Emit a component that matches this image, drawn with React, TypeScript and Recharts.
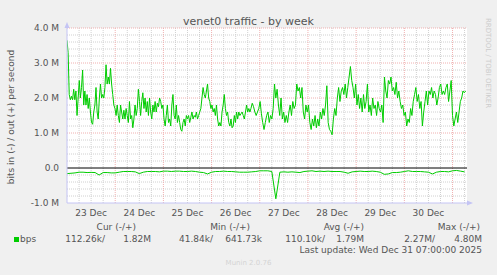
import { CartesianGrid, Line, LineChart, ReferenceLine, XAxis, YAxis } from "recharts";

// hours since 23 Dec 00:00
const X_MAX = 199.2;
const dayLabels = ["23 Dec", "24 Dec", "25 Dec", "26 Dec", "27 Dec", "28 Dec", "29 Dec", "30 Dec"];
const dayNoonHours = [12, 36, 60, 84, 108, 132, 156, 180];
const yTicks = [-1, 0, 1, 2, 3, 4];

// out (+) in Mbit/s
const outFirstSpan = [0, 91.1];
const outFirst = [
  3.65, 3.3, 2.1, 1.95, 2.05, 1.95, 2.25, 1.95, 2.2, 1.5,
  2.0, 2.5, 2.0, 2.3, 2.8, 1.8, 2.2, 1.8, 2.1, 1.7,
  2.0, 1.6, 1.3, 1.25, 1.6, 1.8, 2.3, 1.6, 1.4, 2.0,
  2.4, 2.0, 2.1, 2.0, 2.3, 2.95, 2.4, 2.6, 2.4, 2.85,
  2.4, 2.1, 1.8, 1.7, 1.5, 1.8, 1.5, 1.3, 1.8, 1.6,
  1.4, 1.65, 1.4, 1.7, 1.5, 1.3, 1.9, 1.4, 1.5, 1.15,
  1.4, 1.8, 1.5, 1.7, 2.25, 1.9, 1.5, 1.9, 2.15, 1.7,
  2.0, 1.6, 1.9, 1.5, 2.0, 1.6, 1.4, 1.8, 1.6, 1.9,
  1.6, 1.85, 1.75, 2.0, 1.9, 1.7, 1.8, 1.4, 1.2, 1.5,
  1.8, 1.3, 1.4, 1.2, 1.8, 2.1, 1.5, 1.4, 1.8, 1.3,
  1.5, 1.3, 1.1, 1.05, 1.3, 1.4, 1.2, 1.5, 1.4, 1.5,
  1.3, 1.45, 1.6, 1.4, 1.5, 1.45, 1.6, 1.4, 1.5, 1.6,
  1.7, 2.0, 2.3, 2.1, 2.0, 2.2, 2.4, 2.0, 1.9, 1.7,
  1.8, 1.6, 1.7, 1.5, 1.8, 1.4, 1.2, 1.3, 1.2, 1.6,
  1.8, 2.1, 1.7, 1.5, 1.6, 1.3, 1.2, 1.4, 1.15, 1.2,
  1.5, 1.3, 1.6, 1.4, 1.6, 1.5, 1.55, 1.6, 1.5, 1.4,
  1.6, 1.8, 1.6, 1.7, 1.6,
];
const outSecondSpan = [91.6, 198.5];
const outSecond = [
  1.7, 1.85, 1.75, 1.6, 1.5, 1.6, 1.7, 1.9, 1.55, 1.3,
  1.1, 1.3, 1.5, 1.6, 1.3, 1.5, 1.4, 1.7, 2.4, 2.0,
  2.25, 1.8, 1.5, 2.0, 1.4, 1.6, 1.3, 1.5, 1.3, 1.6,
  1.8, 1.5, 1.9, 1.7, 1.8, 2.4, 2.2, 2.3, 2.0, 2.3,
  1.6, 1.4, 1.8, 1.6, 1.8, 1.3, 1.1, 1.4, 1.2, 1.5,
  1.15, 1.4, 1.2, 1.6, 1.4, 1.7, 1.5, 1.8, 2.35, 1.3,
  1.1, 1.05, 0.95, 1.4, 1.7, 1.5, 2.0, 2.3, 1.9, 2.2,
  2.3, 2.1, 2.4, 2.0, 2.3, 2.6, 2.9, 2.5, 2.3, 2.0,
  2.4, 1.8, 2.1, 1.7, 2.0, 1.6, 2.1, 1.7, 1.9, 2.4,
  1.6, 1.8, 1.5, 2.0, 1.7, 1.8, 1.5, 1.9, 1.7, 1.6,
  1.8, 1.3, 2.6, 2.2, 2.0, 2.5, 2.4, 2.6, 2.2, 2.3,
  2.1, 2.45, 2.0, 2.2, 1.9, 1.7, 1.8, 1.5, 1.6, 1.2,
  1.4, 1.3, 1.7, 1.5, 1.9, 2.1, 2.3, 1.9, 2.1, 1.7,
  1.9, 1.2, 1.6, 1.9, 2.2, 1.8, 2.2, 2.1, 2.3, 2.0,
  2.2, 2.1, 1.8, 2.0, 2.3, 2.4, 2.1, 2.2, 2.1, 2.3,
  2.4, 1.9, 2.2, 2.5, 1.5, 1.2, 1.4, 1.6, 1.3, 1.6,
  1.9, 2.0, 2.2, 2.15, 2.2,
];

// in (-) in Mbit/s, one reading every 2 hours
const IN_STEP = 2;
const inValues = [
  0.16, 0.15, 0.14, 0.12, 0.12, 0.13, 0.125, 0.13, 0.2, 0.13,
  0.13, 0.14, 0.14, 0.12, 0.1, 0.1, 0.1, 0.11, 0.16, 0.12,
  0.1, 0.1, 0.1, 0.11, 0.09, 0.09, 0.1, 0.09, 0.09, 0.1,
  0.1, 0.09, 0.1, 0.12, 0.13, 0.17, 0.12, 0.1, 0.1, 0.09,
  0.1, 0.1, 0.11, 0.12, 0.12, 0.12, 0.11, 0.1, 0.08, 0.08,
  0.08, 0.1, 0.88, 0.12, 0.11, 0.12, 0.11, 0.12, 0.13, 0.1,
  0.09, 0.08, 0.1, 0.09, 0.1, 0.09, 0.1, 0.1, 0.1, 0.12,
  0.15, 0.11, 0.1, 0.09, 0.1, 0.1, 0.09, 0.1, 0.12, 0.18,
  0.17, 0.13, 0.13, 0.12, 0.1, 0.08, 0.1, 0.1, 0.1, 0.11,
  0.12, 0.17, 0.12, 0.1, 0.1, 0.11, 0.08, 0.07, 0.09, 0.11,
];

const statHeaders = ["Cur (-/+)", "Min (-/+)", "Avg (-/+)", "Max (-/+)"];
const statIn = ["112.26k", "41.84k", "110.10k", "2.27M"];
const statOut = ["1.82M", "641.73k", "1.79M", "4.80M"];

const spread = (vals: number[], span: number[]) =>
  vals.map((v, i) => ({ h: span[0] + (i * (span[1] - span[0])) / (vals.length - 1), v }));

const outData = [...spread(outFirst, outFirstSpan), ...spread(outSecond, outSecondSpan)];
const inData = inValues.map((v, i) => ({ h: i * IN_STEP, v: -v }));

const minorX = Array.from({ length: 33 }, (_, i) => (i + 1) * 6).filter((h) => h % 24 !== 0);
const majorX = Array.from({ length: 8 }, (_, i) => (i + 1) * 24);
const minorY = Array.from({ length: 24 }, (_, i) => Math.round((-0.8 + i * 0.2) * 10) / 10).filter(
  (v) => !Number.isInteger(v)
);
const majorY = [1, 2, 3, 4];

const FONT = "'DejaVu Sans', sans-serif";
const TEXT = "#555";
const GREEN = "#00cc00";
const AXIS = "#c4c4f4";
const MINOR = "#d0d0d0";
const MAJOR = "#f0b0b0";

const fmtY = (v: number) => (v === 0 ? "0.0" : `${v.toFixed(1)} M`);

function Txt({ x, y, right, size = 9, color = TEXT, children }: any) {
  const style: any = {
    position: "absolute",
    top: y - 6,
    lineHeight: "12px",
    fontSize: size,
    color,
    whiteSpace: "nowrap",
  };
  if (right !== undefined) style.right = 497 - right;
  else style.left = x;
  return <span style={style}>{children}</span>;
}

export default function App() {
  const headerRight = [136, 250, 364, 480];
  const inRight = [105, 213, 325, 435];
  const outRight = [151, 262, 364, 482];
  return (
    <div
      style={{
        position: "absolute",
        left: 0,
        top: 0,
        width: 497,
        height: 275,
        background: "#f0f0f0",
        fontFamily: FONT,
        overflow: "hidden",
      }}
    >
      <LineChart width={497} height={275} margin={{ top: 28, right: 30, bottom: 42, left: 7 }}>
        <CartesianGrid fill="#ffffff" horizontal={false} vertical={false} stroke="none" />
        {minorX.map((h) => (
          <ReferenceLine key={`mx${h}`} x={h} stroke={MINOR} strokeDasharray="1 1" />
        ))}
        {minorY.map((v) => (
          <ReferenceLine key={`my${v}`} y={v} stroke={MINOR} strokeDasharray="1 1" />
        ))}
        {majorX.map((h) => (
          <ReferenceLine key={`Mx${h}`} x={h} stroke={MAJOR} strokeDasharray="1 1" />
        ))}
        {majorY.map((v) => (
          <ReferenceLine key={`My${v}`} y={v} stroke={MAJOR} strokeDasharray="1 1" />
        ))}
        <XAxis
          dataKey="h"
          type="number"
          domain={[0, X_MAX]}
          ticks={dayNoonHours}
          tickFormatter={(v) => dayLabels[dayNoonHours.indexOf(v)]}
          tick={{ fill: TEXT, fontSize: 9, fontFamily: FONT }}
          tickSize={0}
          tickMargin={7}
          height={30}
          axisLine={{ stroke: AXIS }}
          allowDataOverflow
        />
        <YAxis
          type="number"
          domain={[-1, 4]}
          ticks={yTicks}
          tickFormatter={fmtY}
          tick={{ fill: TEXT, fontSize: 9, fontFamily: FONT }}
          tickSize={0}
          tickMargin={8}
          width={60}
          axisLine={{ stroke: AXIS }}
          allowDataOverflow
        />
        <ReferenceLine y={0} stroke="#000000" strokeWidth={1} />
        <Line data={inData} dataKey="v" type="linear" stroke={GREEN} strokeWidth={1} dot={false} isAnimationActive={false} />
        <Line data={outData} dataKey="v" type="linear" stroke={GREEN} strokeWidth={1} dot={false} isAnimationActive={false} />
      </LineChart>

      <svg width={497} height={275} style={{ position: "absolute", left: 0, top: 0, pointerEvents: "none" }}>
        <polygon points="64.5,28 69.5,28 67,22" fill={AXIS} />
        <polygon points="467,200.5 467,205.5 473,203" fill={AXIS} />
      </svg>

      <div style={{ position: "absolute", left: 0, top: 0, width: 497, height: 275, pointerEvents: "none" }}>
        <div
          style={{
            position: "absolute",
            left: 0,
            width: 497,
            top: 15,
            textAlign: "center",
            fontSize: 11,
            lineHeight: "14px",
            color: TEXT,
          }}
        >
          venet0 traffic - by week
        </div>
        <div
          style={{
            position: "absolute",
            left: 11 - 100,
            top: 117 - 6,
            width: 200,
            lineHeight: "12px",
            textAlign: "center",
            fontSize: 9,
            color: TEXT,
            transform: "rotate(-90deg)",
          }}
        >
          bits in (-) / out (+) per second
        </div>
        <div
          style={{
            position: "absolute",
            left: 488 - 60,
            top: 63 - 5,
            width: 120,
            lineHeight: "10px",
            textAlign: "center",
            fontSize: 7,
            color: "#cccccc",
            transform: "rotate(90deg)",
          }}
        >
          RRDTOOL / TOBI OETIKER
        </div>
        {statHeaders.map((s, i) => (
          <Txt key={s} right={headerRight[i]} y={227}>
            {s}
          </Txt>
        ))}
        <span style={{ position: "absolute", left: 14, top: 237, width: 5, height: 5, background: GREEN }} />
        <Txt x={20} y={239}>
          bps
        </Txt>
        {statIn.map((s, i) => (
          <Txt key={`in${i}`} right={inRight[i]} y={239}>
            {s}/
          </Txt>
        ))}
        {statOut.map((s, i) => (
          <Txt key={`out${i}`} right={outRight[i]} y={239}>
            {s}
          </Txt>
        ))}
        <Txt right={482} y={250}>
          Last update: Wed Dec 31 07:00:00 2025
        </Txt>
        <div
          style={{
            position: "absolute",
            left: 0,
            width: 497,
            top: 257,
            lineHeight: "12px",
            textAlign: "center",
            fontSize: 7,
            color: "#d4d4d4",
          }}
        >
          Munin 2.0.76
        </div>
      </div>
    </div>
  );
}
